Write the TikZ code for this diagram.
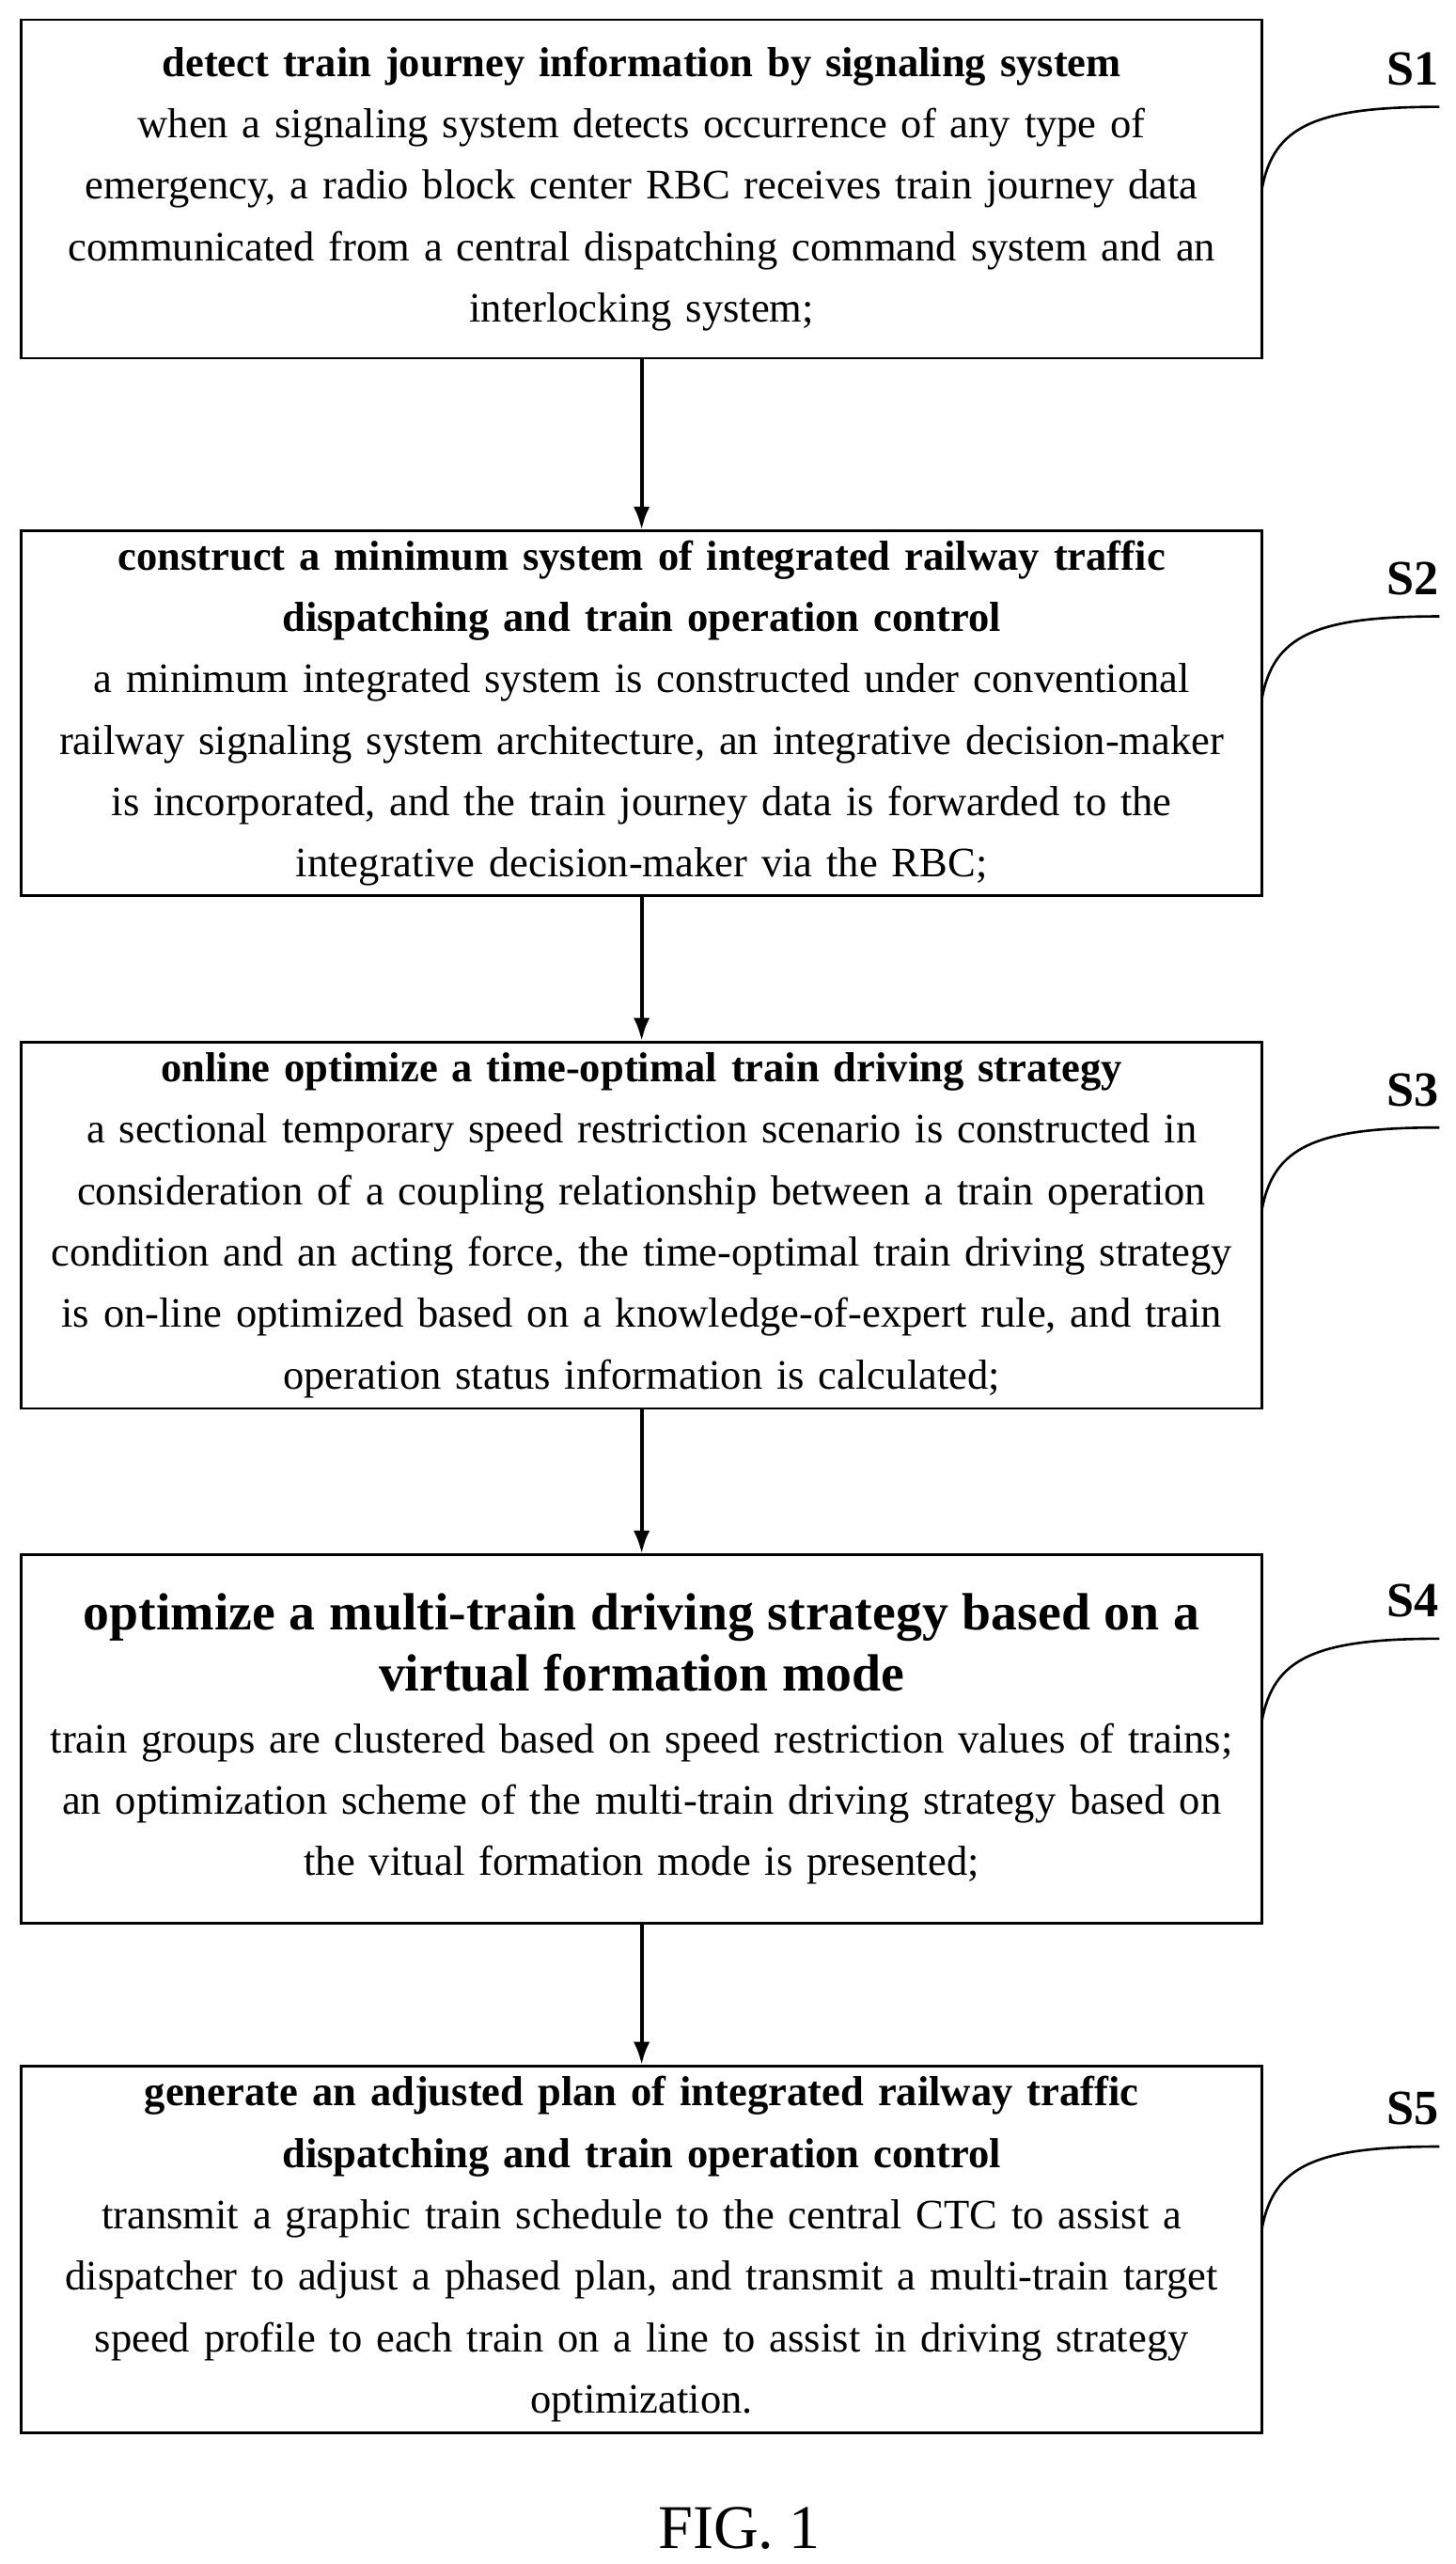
\documentclass[tikz,border=0pt]{standalone}
\usepackage{fontspec}
\setmainfont{Liberation Serif}
\usetikzlibrary{arrows.meta}
\begin{document}
\begin{tikzpicture}[x=1bp,y=-1bp,
 box/.style={draw,line width=1.5bp,minimum width=755bp,text width=750bp,align=center,inner sep=1bp,font=\fontsize{25.6}{37.5}\selectfont},
 lab/.style={font=\fontsize{30}{30}\selectfont\bfseries},
 arr/.style={-{Latex[length=14bp,width=10bp]},line width=2.2bp},
 crv/.style={line width=1.5bp}]
\useasboundingbox (0,0) rectangle (886,1560);
\fill[white] (0,0) rectangle (886,1560);
\node[box,minimum height=206bp] (b1) at (390.5,115) {\textbf{detect train journey information by signaling system}\\when a signaling system detects occurrence of any type of\\emergency, a radio block center RBC receives train journey data\\communicated from a central dispatching command system and an\\interlocking system;};
\node[box,minimum height=222bp] (b2) at (390.5,434) {\textbf{construct a minimum system of integrated railway traffic}\\\textbf{dispatching and train operation control}\\a minimum integrated system is constructed under conventional\\railway signaling system architecture, an integrative decision-maker\\is incorporated, and the train journey data is forwarded to the\\integrative decision-maker via the RBC;};
\node[box,minimum height=223bp] (b3) at (390.5,745.5) {\textbf{online optimize a time-optimal train driving strategy}\\a sectional temporary speed restriction scenario is constructed in\\consideration of a coupling relationship between a train operation\\condition and an acting force, the time-optimal train driving strategy\\is on-line optimized based on a knowledge-of-expert rule, and train\\operation status information is calculated;};
\node[box,minimum height=224bp] (b4) at (390.5,1058) {{\fontsize{32}{40}\selectfont\textbf{optimize a multi-train driving strategy based on a}\\\textbf{virtual formation mode}}\\train groups are clustered based on speed restriction values of trains;\\an optimization scheme of the multi-train driving strategy based on\\the vitual formation mode is presented;};
\node[box,minimum height=223bp] (b5) at (390.5,1368.5) {\textbf{generate an adjusted plan of integrated railway traffic}\\\textbf{dispatching and train operation control}\\transmit a graphic train schedule to the central CTC to assist a\\dispatcher to adjust a phased plan, and transmit a multi-train target\\speed profile to each train on a line to assist in driving strategy\\optimization.};
\draw[arr] (b1) -- (b2);
\draw[arr] (b2) -- (b3);
\draw[arr] (b3) -- (b4);
\draw[arr] (b4) -- (b5);
\foreach \i/\y in {1/42,2/352,3/663,4/974,5/1283}{
 \node[lab] (s\i) at (860,\y) {S\i};
 \coordinate (e\i) at (876,\y+23);
 \draw[crv] (768,\y+73) .. controls (775,\y+35) and (800,\y+23) .. (e\i);
}
\node[font=\fontsize{38}{38}\selectfont] (fig) at (450,1538) {FIG. 1};
\end{tikzpicture}
\end{document}
